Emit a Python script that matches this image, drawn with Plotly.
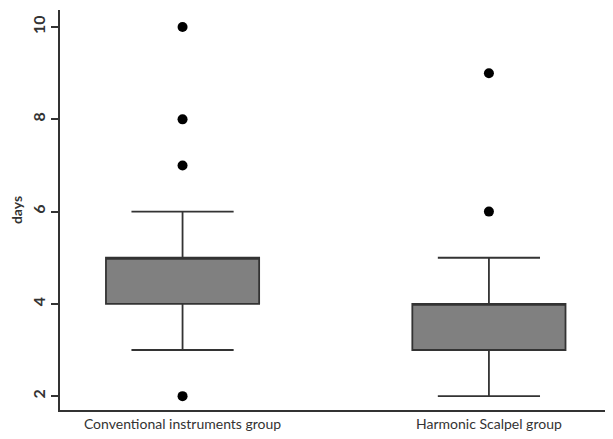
import plotly.graph_objects as go

groups = ["Conventional instruments group", "Harmonic Scalpel group"]
lower_whisker = [3, 2]
q1 = [4, 3]
median = [5, 4]
q3 = [5, 4]
upper_whisker = [6, 5]

outlier_groups = ["Conventional instruments group"] * 4 + ["Harmonic Scalpel group"] * 2
outlier_values = [10, 8, 7, 2, 9, 6]

fig = go.Figure()
fig.add_trace(go.Box(
    x=groups, q1=q1, median=median, q3=q3,
    lowerfence=lower_whisker, upperfence=upper_whisker,
    fillcolor="#808080", line=dict(color="#333333", width=1.8),
    whiskerwidth=0.667, width=0.5, boxpoints=False, showlegend=False,
))
fig.add_trace(go.Scatter(
    x=outlier_groups, y=outlier_values, mode="markers",
    marker=dict(color="black", size=10), showlegend=False,
))

fig.update_layout(
    width=605, height=431,
    margin=dict(l=52, r=0, t=2, b=29),
    paper_bgcolor="white", plot_bgcolor="white",
    font=dict(family="Lato", color="#333333"),
)
fig.update_xaxes(
    range=[-0.40, 1.405], showline=True, linecolor="#333333", linewidth=2,
    showgrid=False, ticks="", tickfont=dict(size=14, color="#333333"),
    zeroline=False,
)
fig.update_yaxes(
    range=[1.70, 10.37], showline=True, linecolor="#333333", linewidth=2,
    showgrid=False, zeroline=False, ticks="outside", ticklen=7, tickwidth=2,
    tickcolor="#333333", tickvals=[2, 4, 6, 8, 10], tickangle=-90,
    tickfont=dict(size=16, weight="bold", color="#333333"),
    title=dict(text="days", font=dict(size=14, weight="bold", color="#333333"), standoff=8),
)
fig.write_html("out.html")
